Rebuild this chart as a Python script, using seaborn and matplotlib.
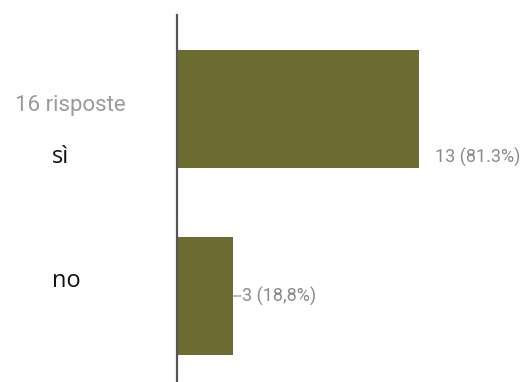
import matplotlib
matplotlib.use("Agg")
import matplotlib.pyplot as plt
import seaborn as sns
import pandas as pd

categories = ["sì", "no"]
counts = [13, 3]
value_labels = ["13 (81.3%)", "3 (18,8%)"]
title_text = "16 risposte"

sns.set_theme(style="white")
plt.rcParams["font.family"] = ["Roboto", "DejaVu Sans"]

W, H = 521, 382
fig = plt.figure(figsize=(W / 100, H / 100), dpi=100)
ax = fig.add_axes([177 / W, 0 / H, (W - 177) / W, (H - 15) / H])

df = pd.DataFrame({"cat": categories, "n": counts})
sns.barplot(data=df, y="cat", x="n", orient="h", color="#6c6b30",
            saturation=1, width=0.63, ax=ax, edgecolor="none")

px_per_unit = (419 - 177) / 13.0
ax.set_xlim(0, (W - 177) / px_per_unit)
ax.set_ylim(1.46, -0.503)

for s in ["top", "right", "bottom"]:
    ax.spines[s].set_visible(False)
ax.spines["left"].set_color("#555555")
ax.spines["left"].set_linewidth(1.6)
ax.set_xticks([])
ax.set_yticks([])
ax.set_xlabel("")
ax.set_ylabel("")

# value labels
offsets = [(16, -48), (9, 0)]
for i, (v, lab) in enumerate(zip(counts, value_labels)):
    dx, dy = offsets[i]
    ax.annotate(lab, xy=(v, i), xytext=(dx, dy), textcoords="offset pixels",
                ha="left", va="center", fontsize=13, color="#8a8a8a",
                annotation_clip=False)
    if i == 1:
        ax.annotate("", xy=(v, i), xytext=(dx - 1, dy), textcoords="offset pixels",
                    arrowprops=dict(arrowstyle="-", color="#9a9a9a", lw=1,
                                    shrinkA=0, shrinkB=0))

fig.text(15 / W, 1 - 106 / H, title_text, ha="left", va="center",
         fontsize=16, color="#9a9a9a", family=["Roboto", "DejaVu Sans"])

cat_pos = [157, 281]
for c, yp in zip(categories, cat_pos):
    fig.text(52 / W, 1 - yp / H, c, ha="left", va="center", fontsize=17,
             color="#111111", family=["Open Sans", "DejaVu Sans"])

fig.savefig("out.png", dpi=100)
